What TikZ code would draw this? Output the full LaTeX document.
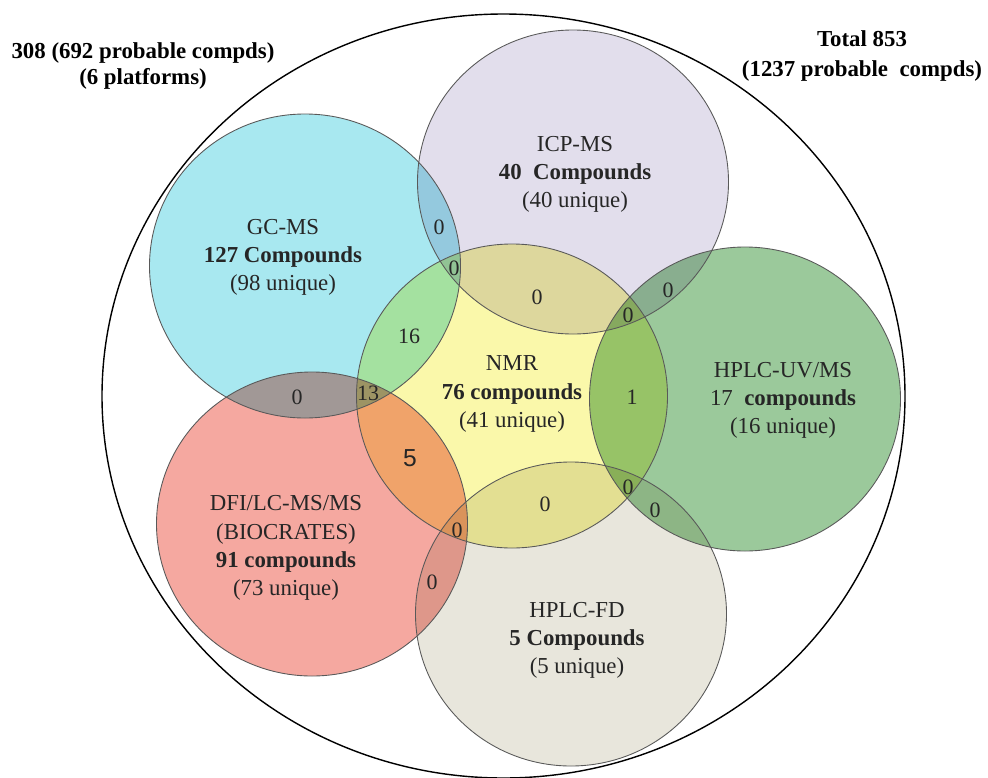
\documentclass[tikz,border=0pt]{standalone}
\usepackage{fontspec}
\setmainfont{Liberation Serif}
\setsansfont{Liberation Sans}
\usepackage{tikz}

\definecolor{gccol}{HTML}{A8E8F0}
\definecolor{icpcol}{HTML}{E2DEEC}
\definecolor{nmrcol}{HTML}{FAF8AA}
\definecolor{uvcol}{HTML}{9BC99B}
\definecolor{dficol}{HTML}{F5A8A0}
\definecolor{fdcol}{HTML}{E8E6DC}

\begin{document}
\begin{tikzpicture}[x=0.02cm,y=-0.02cm,
    venn/.style={blend mode=multiply},
    rim/.style={draw=black!65,line width=0.5pt},
    lbl/.style={align=center,font=\fontsize{13}{16}\selectfont,text=black!85},
    num/.style={font=\fontsize{12.5}{14}\selectfont,text=black!85,inner sep=0pt},
    note/.style={align=center,font=\bfseries\fontsize{13}{17}\selectfont}]
        \useasboundingbox (0,0) rectangle (988,778);

        % Circle centres
        \coordinate (gc) at (305,266);
        \coordinate (icp) at (573,182);
        \coordinate (nmr) at (512,396);
        \coordinate (uv) at (745,399);
        \coordinate (dfi) at (312,524);
        \coordinate (fd) at (571,614);

        % Outer set
        \draw[line width=0.8pt] (503.5,396) ellipse [x radius=401.5, y radius=382];

        % Platforms
        \foreach \c/\col in {gc/gccol,icp/icpcol,nmr/nmrcol,uv/uvcol,dfi/dficol,fd/fdcol}
            \fill[venn,\col] (\c) ellipse [x radius=155.5, y radius=152];
        \foreach \c in {gc,icp,nmr,uv,dfi,fd}
            \draw[rim] (\c) ellipse [x radius=155.5, y radius=152];

        % Labels
        \node[lbl] (gclbl) at (283,257) {GC-MS\\\textbf{127 Compounds}\\(98 unique)};
        \node[lbl] (icplbl) at (575,174) {ICP-MS\\\textbf{40~~Compounds}\\(40 unique)};
        \node[lbl] (nmrlbl) at (512,394) {NMR\\\textbf{76 compounds}\\(41 unique)};
        \node[lbl] (uvlbl) at (783,400) {HPLC-UV/MS\\17~~\textbf{compounds}\\(16 unique)};
        \node[lbl] (dfilbl) at (286,548) {DFI/LC-MS/MS\\(BIOCRATES)\\\textbf{91 compounds}\\(73 unique)};
        \node[lbl] (fdlbl) at (577,640) {HPLC-FD\\\textbf{5 Compounds}\\(5 unique)};

        \node[note,font=\bfseries\fontsize{13}{14.5}\selectfont] (common) at (143,66) {308 (692 probable compds)\\(6 platforms)};
        \node[note] (total) at (862,56) {Total 853\\(1237 probable~~compds)};

        % Overlap counts
        \foreach \p/\t [count=\i] in {(439,227)/0,(454,268)/0,(537,297)/0,(628,315)/0,(668,290)/0,
                (409,336)/16,(368,393)/13,(297,397)/0,(632,397)/1,(628,487)/0,
                (655,510)/0,(545,504)/0,(457,530)/0,(432,582)/0}
            \node[num] (cnt\i) at \p {\t};
        \node[num,font=\sffamily\fontsize{14}{16}\selectfont] (five) at (410,458) {5};
\end{tikzpicture}
\end{document}
